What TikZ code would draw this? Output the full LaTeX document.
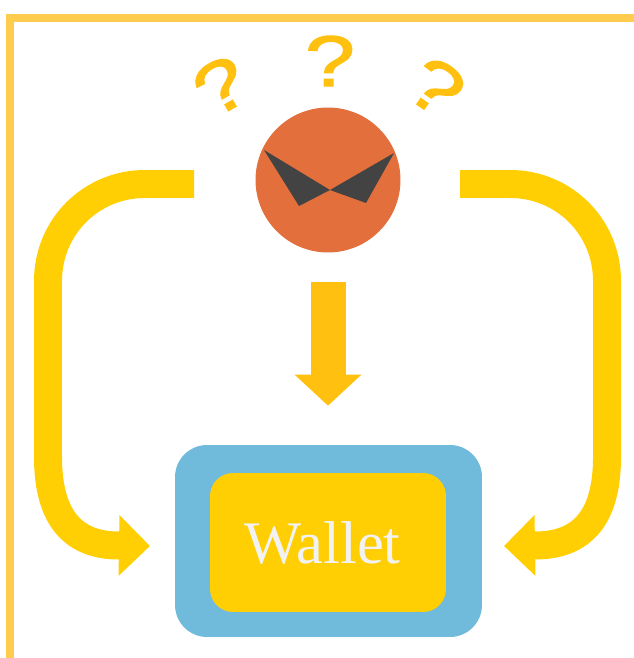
\documentclass[tikz,border=0pt]{standalone}
\usepackage{fontspec}
\setmainfont{Liberation Serif}
\newfontfamily\markfont[FakeBold=1.6]{Liberation Sans}
\usetikzlibrary{arrows.meta}
\definecolor{framecol}{HTML}{FFCC4D}
\definecolor{flowcol}{HTML}{FFCE03}
\definecolor{markcol}{HTML}{FFC010}
\definecolor{facecol}{HTML}{E36F3D}
\definecolor{eyecol}{HTML}{434343}
\definecolor{walletcol}{HTML}{70BADB}
\definecolor{textcol}{HTML}{F2F2F2}
\tikzset{
  flow/.style={draw=flowcol,line width=.56cm,-{Triangle[length=.62cm,width=1.18cm,fill=flowcol]}},
  qmark/.style={text=markcol,inner sep=0,font=\markfont\fontsize{41}{41}\selectfont}
}
\begin{document}
\begin{tikzpicture}[x=0.02cm,y=-0.02cm]
  \useasboundingbox (0,0) rectangle (634,658);
  % frame
  \draw[framecol,line width=.16cm] (10,658) -- (10,18) -- (634,18);
  % wallet
  \node[fill=walletcol,rounded corners=.64cm,minimum width=6.14cm,minimum height=3.84cm,inner sep=0] (wallet) at (328.5,541) {};
  \node[fill=flowcol,rounded corners=.46cm,minimum width=4.72cm,minimum height=2.78cm,inner sep=0] (slot) at (328,542.5) {};
  \node[text=textcol,inner sep=0,font=\fontsize{34.4}{34}\selectfont] (label) at (322.5,543) {Wallet};
  % face
  \node[circle,fill=facecol,minimum size=2.9cm,inner sep=0] (face) at (328,180) {};
  \fill[eyecol] (264,150) -- (330,190) -- (299,206) -- cycle;
  \fill[eyecol] (394,153) -- (366,203) -- (330,190) -- cycle;
  % question marks
  \node[qmark] (qmid) at (330,61) {\scalebox{1.25}[1]{?}};
  \node[qmark,rotate=30] (qleft) at (221,86) {\scalebox{1.25}[1]{?}};
  \node[qmark,rotate=-35] (qright) at (436,87) {\scalebox{1.25}[1]{?}};
  % arrows
  \coordinate (lstart) at (194,184);
  \coordinate (ltip) at (150,546);
  \coordinate (rstart) at (460,184);
  \coordinate (rtip) at (504,546);
  \draw[flow] (lstart) -- (145,184) .. controls (91,184) and (48,227) .. (48,281) -- (48,457) .. controls (48,520) and (75,545.5) .. (119,545.5) -- (ltip);
  \draw[flow] (rstart) -- (510,184) .. controls (564,184) and (607,227) .. (607,281) -- (607,457) .. controls (607,520) and (580,545.5) .. (535,545.5) -- (rtip);
  \draw[draw=markcol,line width=.7cm,shorten <=.58cm,shorten >=.78cm,-{Triangle[length=.62cm,width=1.3cm,fill=markcol]}] (face.south) -- (face.south |- wallet.north);
\end{tikzpicture}
\end{document}
